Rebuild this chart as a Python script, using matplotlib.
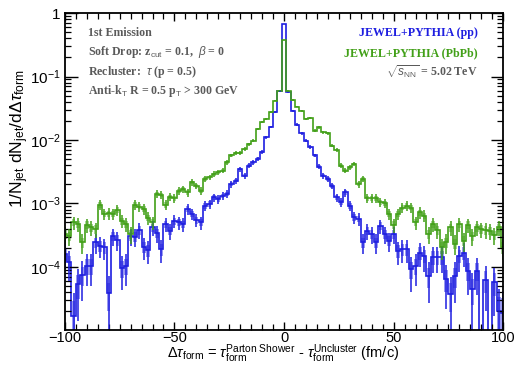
import numpy as np
import matplotlib
matplotlib.use('Agg')
import matplotlib.pyplot as plt
from matplotlib.ticker import MultipleLocator, LogLocator, FuncFormatter, NullFormatter

plt.rcParams['font.family'] = ['Liberation Sans', 'DejaVu Sans']
plt.rcParams['mathtext.fontset'] = 'custom'
plt.rcParams['mathtext.rm'] = 'Liberation Sans'
plt.rcParams['mathtext.it'] = 'Liberation Sans:italic'
plt.rcParams['mathtext.bf'] = 'Liberation Sans:bold'

# bin centres of delta tau_form (fm/c), 2 fm/c wide bins
tau_centers = np.arange(-100, 101, 2)
bin_width = 2.0
n_jets = 17500  # used for the statistical error bars

# 1/N dN/d(dtau), JEWEL+PYTHIA pp  (0 = empty bin)
pp = [1.58e-4, 1.17e-4, 1.68e-5, 5.3e-5, 7.5e-5, 1.04e-4, 1.04e-4, 2.42e-4, 2.15e-4, 2.02e-4,
      3.8e-5, 3.08e-4, 2.64e-4, 9.5e-5, 1.04e-4, 3.08e-4, 2.98e-4, 3.79e-4, 2.07e-4, 1.83e-4,
      4.18e-4, 3.36e-4, 1.90e-4, 4.72e-4, 3.70e-4, 5.3e-4, 5.0e-4, 4.72e-4, 8.1e-4, 6.8e-4,
      5.5e-4, 5.0e-4, 9.2e-4, 9.8e-4, 1.24e-3, 1.17e-3, 1.32e-3, 1.40e-3, 2.02e-3, 2.28e-3,
      3.48e-3, 2.73e-3, 3.94e-3, 4.44e-3, 5.1e-3, 6.4e-3, 1.10e-2, 1.62e-2, 2.73e-2, 5.9e-2,
      0.68,
      5.7e-2, 2.9e-2, 1.75e-2, 1.27e-2, 9.8e-3, 7.8e-3, 5.7e-3, 3.8e-3, 2.73e-3, 2.42e-3,
      1.90e-3, 1.24e-3, 1.04e-3, 1.49e-3, 9.2e-4, 6.0e-4, 5.7e-4, 2.42e-4, 3.70e-4, 3.28e-4,
      2.42e-4, 4.44e-4, 3.28e-4, 2.57e-4, 3.28e-4, 1.79e-4, 1.90e-4, 1.90e-4, 9.2e-5, 1.04e-4,
      1.68e-4, 1.49e-4, 7.2e-5, 1.44e-4, 1.44e-4, 1.44e-4, 6.4e-5, 3.7e-5, 7.2e-5, 1.49e-4,
      1.68e-4, 8.6e-5, 4.44e-5, 8.6e-5, 0, 6.2e-5, 0, 5.7e-5, 2.02e-5, 1.90e-5]

# JEWEL+PYTHIA PbPb
pbpb = [3.28e-4, 3.08e-4, 5.0e-4, 4.72e-4, 2.42e-4, 4.6e-4, 4.18e-4, 3.93e-4, 9.5e-4, 6.8e-4,
        6.95e-4, 6.8e-4, 7.85e-4, 5.3e-4, 4.72e-4, 3.28e-4, 9.5e-4, 8.9e-4, 8.1e-4, 5.9e-4,
        5.0e-4, 1.40e-3, 1.37e-3, 9.5e-4, 1.27e-3, 1.21e-3, 1.58e-3, 1.68e-3, 1.49e-3, 2.15e-3,
        1.90e-3, 1.58e-3, 2.42e-3, 2.57e-3, 2.90e-3, 3.08e-3, 3.28e-3, 4.44e-3, 5.7e-3, 6.2e-3,
        6.2e-3, 7.2e-3, 8.6e-3, 9.8e-3, 1.49e-2, 1.90e-2, 2.15e-2, 2.73e-2, 4.18e-2, 6.0e-2,
        0.38,
        5.9e-2, 4.28e-2, 3.36e-2, 2.9e-2, 2.15e-2, 2.22e-2, 1.40e-2, 1.58e-2, 1.32e-2, 1.27e-2,
        8.1e-3, 6.95e-3, 3.94e-3, 3.28e-3, 3.70e-3, 4.18e-3, 2.02e-3, 2.42e-3, 1.21e-3, 1.21e-3,
        1.21e-3, 1.04e-3, 1.0e-3, 6.8e-4, 4.6e-4, 6.8e-4, 8.6e-4, 9.2e-4, 8.6e-4, 5.0e-4,
        7.2e-4, 6.4e-4, 3.28e-4, 4.72e-4, 3.79e-4, 2.02e-4, 2.42e-4, 4.18e-4, 2.33e-4, 4.72e-4,
        2.57e-4, 4.6e-4, 3.08e-4, 4.18e-4, 3.93e-4, 3.79e-4, 3.70e-4, 3.2e-4, 4.18e-4, 2.02e-4]

blue = '#1e1ee0'
green = '#42a018'

fig = plt.figure(figsize=(5.15, 3.65), dpi=100)
ax = fig.add_axes([0.126, 0.096, 0.851, 0.868])

edges = np.append(tau_centers - bin_width / 2, tau_centers[-1] + bin_width / 2)


def draw_hist(vals, color):
    v = np.array(vals, dtype=float)
    counts = v * n_jets * bin_width
    filled = v > 0
    stat = np.zeros_like(v)
    stat[filled] = v[filled] / np.sqrt(counts[filled])
    sys = 0.55 * stat
    x = tau_centers[filled]
    # light boxes (systematics)
    bot = np.maximum(v[filled] - sys[filled], 1e-8)
    ax.bar(x, v[filled] + sys[filled] - bot, bottom=bot, width=bin_width * 0.8,
           color=color, alpha=0.45, lw=0)
    # histogram outline
    ax.stairs(np.where(filled, v, 1e-8), edges, color=color, lw=1.2)
    # statistical errors
    ax.vlines(x, np.maximum(v[filled] - stat[filled], 1e-8), v[filled] + stat[filled],
              color=color, lw=1.1)


draw_hist(pp, blue)
draw_hist(pbpb, green)

ax.set_yscale('log')
ax.set_xlim(-100, 100)
ax.set_ylim(1.01e-5, 1.0)


def yfmt(y, pos):
    if abs(y - 1) < 1e-9:
        return '1'
    return r'$10^{%d}$' % int(round(np.log10(y)))


ax.yaxis.set_major_locator(LogLocator(base=10, numticks=10))
ax.yaxis.set_minor_locator(LogLocator(base=10, subs=np.arange(2, 10), numticks=20))
ax.yaxis.set_major_formatter(FuncFormatter(yfmt))
ax.yaxis.set_minor_formatter(NullFormatter())
ax.xaxis.set_major_locator(MultipleLocator(50))
ax.xaxis.set_minor_locator(MultipleLocator(5))

ax.tick_params(axis='both', which='both', direction='in', top=True, right=True)
ax.tick_params(axis='y', which='major', length=9, width=1.0, pad=3, labelsize=11)
ax.tick_params(axis='y', which='minor', length=4.5, width=0.9)
ax.tick_params(axis='x', which='major', length=6, width=1.0, pad=1, labelsize=10.5)
ax.tick_params(axis='x', which='minor', length=4, width=0.9)
for s in ax.spines.values():
    s.set_linewidth(1.3)

W, H = 515.0, 365.0
serif = ['Liberation Serif', 'DejaVu Serif']
grey = '#5a5a5a'
left_lines = ['1st Emission',
              r'Soft Drop: z$_{\rm cut}$ = 0.1,  $\beta$ = 0',
              r'Recluster:  $\tau$ (p = 0.5)',
              r'Anti-k$_{\rm T}$ R = 0.5 p$_{\rm T}$ > 300 GeV']
for i, t in enumerate(left_lines):
    fig.text(88 / W, 1 - (33 + 19.3 * i) / H, t, ha='left', va='center',
             family=serif, weight='bold', fontsize=8.6, color=grey)

fig.text(478 / W, 1 - 33 / H, 'JEWEL+PYTHIA (pp)', ha='right', va='center',
         family=serif, weight='bold', fontsize=8.6, color=blue)
fig.text(478 / W, 1 - 53 / H, 'JEWEL+PYTHIA (PbPb)', ha='right', va='center',
         family=serif, weight='bold', fontsize=8.6, color=green)
fig.text(478 / W, 1 - 72 / H, r'$\sqrt{s_{\rm NN}}$ = 5.02 TeV', ha='right', va='center',
         family=serif, weight='bold', fontsize=8.6, color=grey)

fig.text(20 / W, 1 - 138 / H, r'1/N$_{\rm jet}$ dN$_{\rm jet}$/d$\Delta\tau_{\rm form}$',
         rotation=90, ha='center', va='center', fontsize=12.5)
fig.text(283 / W, 1 / H,
         r'$\Delta\tau_{\rm form}$ = $\tau_{\rm form}^{\rm Parton\ Shower}$ - $\tau_{\rm form}^{\rm Uncluster}$ (fm/c)',
         ha='center', va='bottom', fontsize=10.5)

fig.savefig('out.png', dpi=100)
